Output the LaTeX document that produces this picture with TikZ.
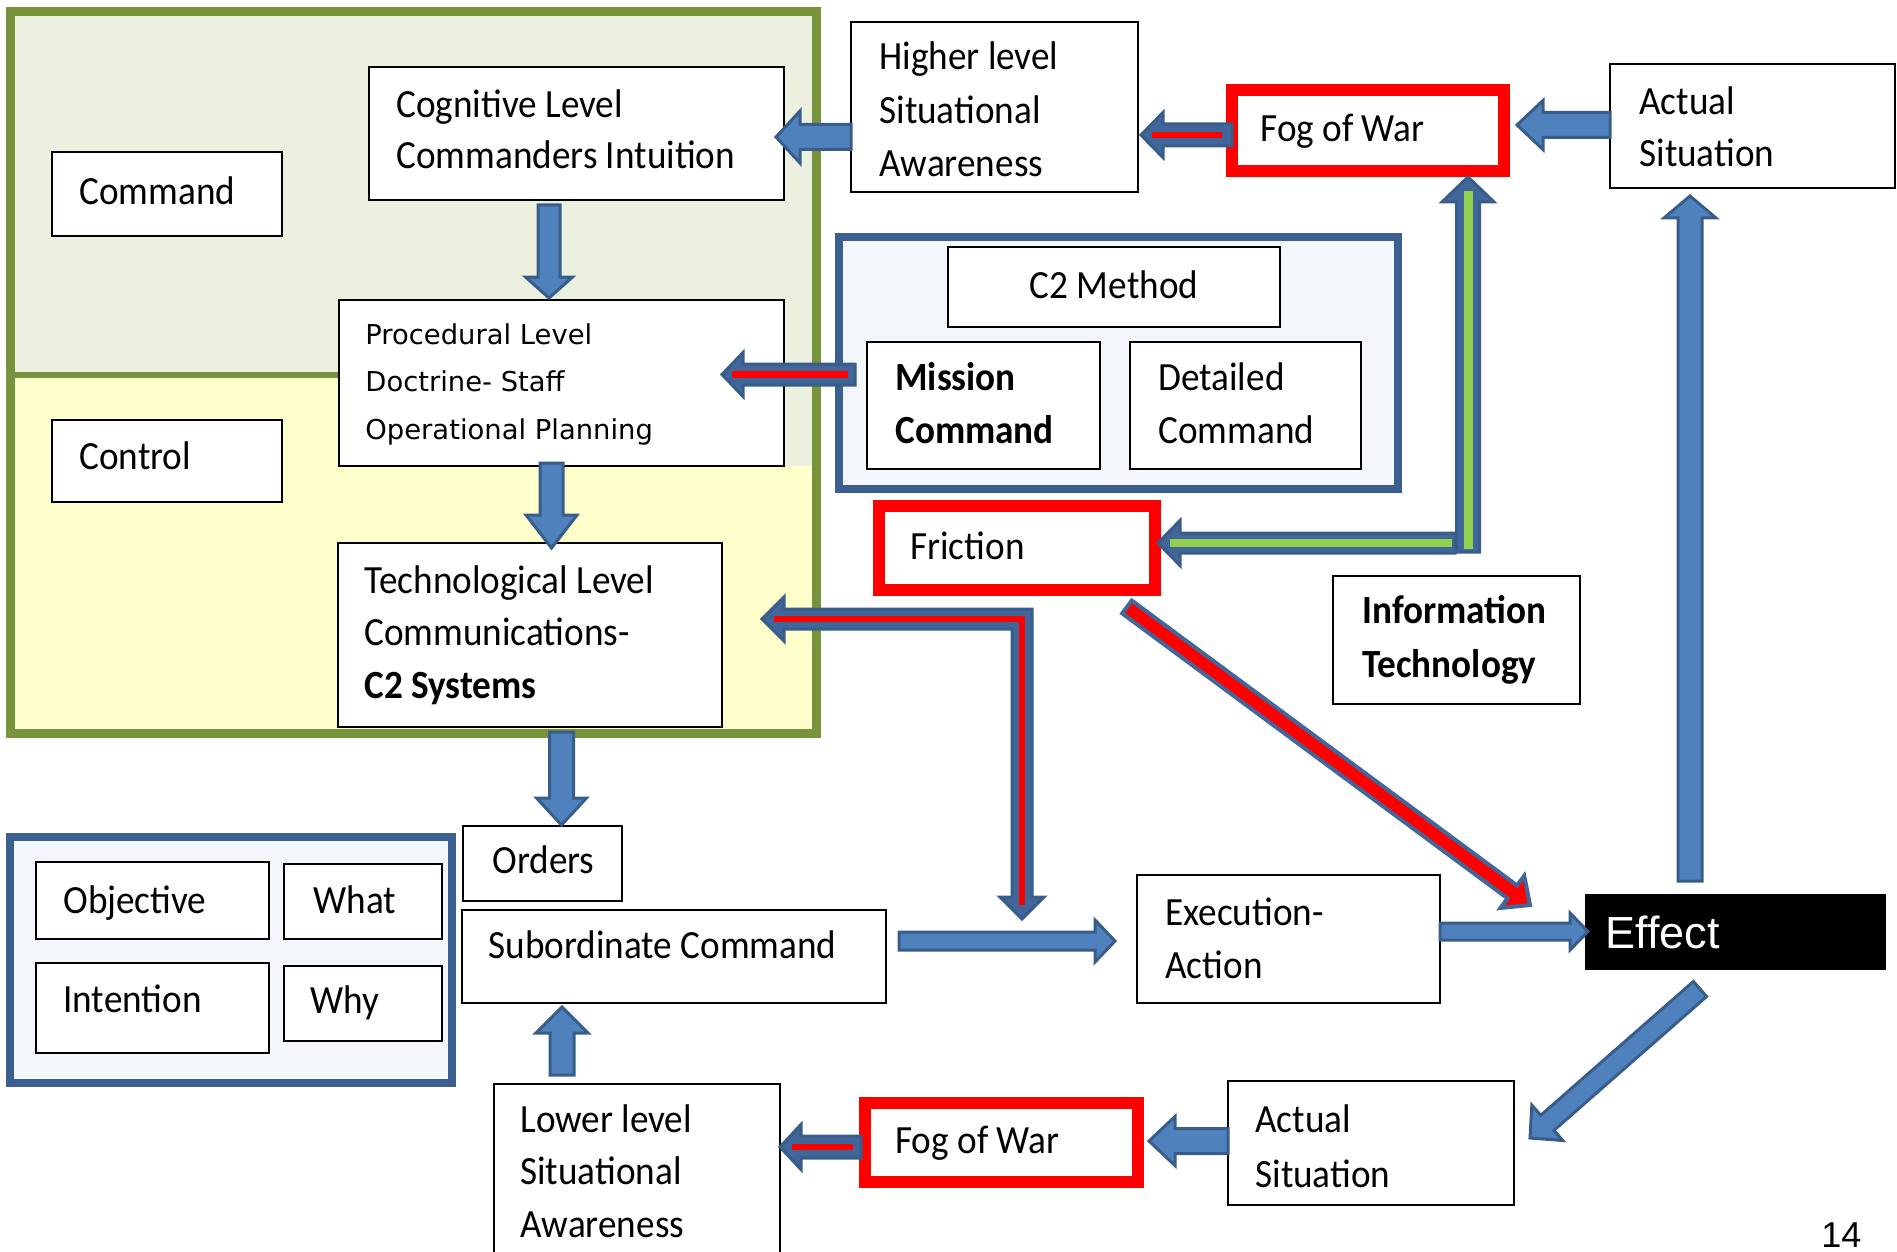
\documentclass[tikz,border=0pt]{standalone}
\usepackage{fontspec}
\setmainfont{Carlito}[FakeStretch=0.93]
\newfontfamily\procfont{DejaVu Sans}
\newfontfamily\arialfont{Liberation Sans}
\usetikzlibrary{calc}

\definecolor{oliveline}{HTML}{77933C}
\definecolor{topfill}{HTML}{EBF1DE}
\definecolor{lowfill}{HTML}{FFFFCC}
\definecolor{navyline}{HTML}{3B5F8E}
\definecolor{panelfill}{HTML}{F3F6FA}
\definecolor{arrowfill}{HTML}{4F81BD}
\definecolor{arrowedge}{HTML}{385D8A}
\definecolor{darkshaft}{HTML}{41679A}
\definecolor{alarm}{HTML}{FF0000}
\definecolor{itgreen}{HTML}{92D050}

% one drawing unit
\def\pxu{0.5pt}

% multi-line text whose baseline is the first line
\newcommand\ml[2]{\parbox[t]{400pt}{\raggedright\baselineskip=#1\relax #2}}

% rectangle node from corner (x1,y1) to (x2,y2), y measured downwards
\newcommand\rect[6][]{%
  \node[box,#1,anchor=north west,minimum width={(#4-#2)*\pxu},minimum height={(#5-#3)*\pxu}] (#6) at (#2,-#3) {};}

% block arrow: [style]{tail}{tip}{shaft half width}{head half width}{head length}
\newcommand\blockarrow[6][]{%
  \path[#1] let \p1=#2, \p2=#3, \p3=($(\p2)!{#6*\pxu}!(\p1)$) in
    ($(\p1)!{#4*\pxu}!-90:(\p2)$) -- ($(\p3)!{#4*\pxu}!-90:(\p2)$) -- ($(\p3)!{#5*\pxu}!-90:(\p2)$)
    -- (\p2) -- ($(\p3)!{#5*\pxu}!90:(\p2)$) -- ($(\p3)!{#4*\pxu}!90:(\p2)$)
    -- ($(\p1)!{#4*\pxu}!90:(\p2)$) -- cycle;}

\tikzset{
  box/.style={draw=black, fill=white, line width=1pt, inner sep=0pt, outer sep=0pt},
  redbox/.style={draw=alarm, line width=6pt},
  panel/.style={draw=navyline, fill=panelfill, line width=4.25pt},
  effectbox/.style={draw=black, fill=black},
  txt/.style={anchor=base west, inner sep=0pt, font=\fontsize{20pt}{26.5pt}\selectfont},
  plainarrow/.style={fill=arrowfill, draw=arrowedge, line width=1.5pt, line join=miter},
  darkarrow/.style={fill=darkshaft, draw=arrowedge, line width=1.5pt, line join=miter},
  redarrow/.style={fill=alarm, draw=darkshaft, line width=2pt, line join=miter},
  redline/.style={draw=alarm, line width=3.25pt},
  greenline/.style={draw=itgreen, line width=4.5pt},
}

\begin{document}
\begin{tikzpicture}[x=0.5pt, y=0.5pt]
\useasboundingbox (0,0) rectangle (1897,-1252);

% command and control regions
\fill[lowfill] (10,-375) rectangle (816,-733);
\fill[topfill] (10,-12) -- (816,-12) -- (816,-466) -- (784,-466) -- (784,-375) -- (10,-375) -- cycle;
\draw[oliveline, line width=4.5pt] (10,-12) rectangle (816,-733);
\draw[oliveline, line width=3pt] (10,-375) -- (339,-375);

% panels
\rect[panel]{839}{237}{1398}{489}{c2panel}
\rect[panel]{10}{837}{452}{1083}{intentpanel}

% boxes
\rect{52}{152}{282}{236}{command}
\rect{52}{420}{282}{502}{control}
\rect{369}{67}{784}{200}{cognitive}
\rect{339}{300}{784}{466}{procedural}
\rect{338}{543}{722}{727}{technological}
\rect{851}{22}{1138}{192}{higher}
\rect[redbox]{1232}{90}{1504}{171}{fogtop}
\rect{1610}{64}{1895}{188}{actualtop}
\rect{948}{247}{1280}{327}{c2method}
\rect{867}{342}{1100}{469}{mission}
\rect{1130}{342}{1361}{469}{detailed}
\rect[redbox]{879}{506}{1155}{590}{friction}
\rect{1333}{576}{1580}{704}{infotech}
\rect{463}{826}{622}{901}{orders}
\rect{462}{910}{886}{1003}{subordinate}
\rect{36}{862}{269}{939}{objective}
\rect{284}{864}{442}{939}{what}
\rect{36}{963}{269}{1053}{intention}
\rect{284}{966}{442}{1041}{why}
\rect{1137}{875}{1440}{1003}{execution}
\rect[effectbox]{1586}{895}{1885}{969}{effect}
\rect{494}{1084}{780}{1262}{lower}
\rect[redbox]{865}{1103}{1138}{1182}{fogbottom}
\rect{1228}{1081}{1514}{1205}{actualbottom}

% texts
\node[txt] (commandT) at (79,-205) {Command};
\node[txt] (controlT) at (79,-469) {Control};
\node[txt] (cognitiveT) at (396,-118) {\ml{25.5pt}{Cognitive Level\\Commanders Intuition}};
\node[txt, font=\procfont\fontsize{13.7pt}{23.75pt}\selectfont] (proceduralT) at (365,-344)
  {\ml{23.75pt}{Procedural Level\\Doctrine- Staff\\Operational Planning}};
\node[txt] (technologicalT) at (364,-593) {\ml{26.25pt}{Technological Level\\Communications-\\\textbf{C2 Systems}}};
\node[txt] (higherT) at (879,-70) {\ml{26.75pt}{Higher level\\Situational\\Awareness}};
\node[txt] (fogtopT) at (1260,-141) {Fog of War};
\node[txt] (actualtopT) at (1639,-115) {\ml{26pt}{Actual\\Situation}};
\node[txt, anchor=base] (c2methodT) at (1114,-299) {C2 Method};
\node[txt] (missionT) at (895,-390) {\ml{26.5pt}{\textbf{Mission}\\\textbf{Command}}};
\node[txt] (detailedT) at (1158,-390) {\ml{26.5pt}{Detailed\\Command}};
\node[txt] (frictionT) at (910,-559) {Friction};
\node[txt] (infotechT) at (1362,-623) {\ml{27pt}{\textbf{Information}\\\textbf{Technology}}};
\node[txt] (ordersT) at (492,-873) {Orders};
\node[txt] (subordinateT) at (488,-958) {Subordinate Command};
\node[txt] (objectiveT) at (63,-913) {Objective};
\node[txt] (whatT) at (313,-913) {What};
\node[txt] (intentionT) at (63,-1012) {Intention};
\node[txt] (whyT) at (310,-1013) {Why};
\node[txt] (executionT) at (1165,-925) {\ml{26.5pt}{Execution-\\Action}};
\node[txt, text=white, font=\arialfont\fontsize{22.5pt}{27pt}\selectfont] (effectT) at (1605,-948) {Effect};
\node[txt] (lowerT) at (520,-1132) {\ml{26.25pt}{Lower level\\Situational\\Awareness}};
\node[txt] (fogbottomT) at (895,-1153) {Fog of War};
\node[txt] (actualbottomT) at (1255,-1132) {\ml{27.5pt}{Actual\\Situation}};
\node[txt, font=\arialfont\fontsize{18pt}{21pt}\selectfont] (pageno) at (1821,-1247) {14};

% arrows along the top row
\blockarrow[plainarrow]{(higher.west |- 0,-137)}{($(cognitive.east |- 0,-137)+(-8,0)$)}{12.5}{26}{24}
\blockarrow[darkarrow]{(fogtop.west |- 0,-135)}{($(higher.east |- 0,-135)+(3,0)$)}{11}{22.5}{22}
\draw[redline] ($(fogtop.west |- 0,-135)+(-10,0)$) -- ($(higher.east |- 0,-135)+(14,0)$);
\blockarrow[plainarrow]{(actualtop.west |- 0,-125)}{($(fogtop.east |- 0,-125)+(13,0)$)}{12.5}{24.5}{26}

% information technology feedback
\coordinate (itbend) at (1468,-552);
\blockarrow[darkarrow]{(itbend)}{($(fogtop.south -| itbend)+(0,-6)$)}{11.5}{26}{25}
\draw[greenline] ($(itbend)+(0,3)$) -- ($(fogtop.south -| itbend)+(0,-20)$);
\blockarrow[darkarrow]{($(itbend |- 0,-543)+(-13,0)$)}{($(friction.east |- 0,-543)+(3,0)$)}{10}{22.5}{22}
\draw[greenline, line width=4pt] ($(itbend |- 0,-543)+(-16,0)$) -- ($(friction.east |- 0,-543)+(15,0)$);

% C2 method into procedures
\blockarrow[darkarrow]{($(mission.west |- 0,-374.5)+(-12,0)$)}{($(procedural.east |- 0,-374.5)+(-62,0)$)}{10.5}{22}{21}
\draw[redline] ($(mission.west |- 0,-374.5)+(-19,0)$) -- ($(procedural.east |- 0,-374.5)+(-52,0)$);

% levels down the left column
\blockarrow[plainarrow]{($(cognitive.south -| 549,0)+(0,-5)$)}{($(procedural.north -| 549,0)+(0,2)$)}{11}{23.5}{21}
\blockarrow[plainarrow]{($(procedural.south -| 551.5,0)+(0,3)$)}{($(technological.north -| 551.5,0)+(0,-5)$)}{11.5}{25.5}{33}
\blockarrow[plainarrow]{($(technological.south -| 561.5,0)+(0,-5)$)}{($(orders.north -| 561.5,0)+(0,1)$)}{12}{25}{27}
\blockarrow[plainarrow]{($(lower.north -| 562,0)+(0,9)$)}{($(subordinate.south -| 562,0)+(0,-4)$)}{12}{26}{26}

% friction split arrow
\coordinate (lbend) at (1022,-619);
\filldraw[darkarrow] (762,-619) -- (784,-597) -- (784,-609) -- (1032,-609) -- (1032,-897)
  -- (1044,-897) -- (1022,-919) -- (1000,-897) -- (1012,-897) -- (1012,-629)
  -- (784,-629) -- (784,-641) -- cycle;
\draw[redline, line join=miter] (774,-619) -- (lbend) -- (1022,-905);

% execution chain
\blockarrow[plainarrow]{($(subordinate.east |- 0,-941)+(13,0)$)}{($(execution.west |- 0,-941)+(-22,0)$)}{9}{21}{20}
\blockarrow[plainarrow]{(execution.east |- 0,-931.5)}{($(effect.west |- 0,-931.5)+(2,0)$)}{8.5}{18.5}{18}
\blockarrow[redarrow]{($(friction.south east)+(-28,-17)$)}{($(effect.north west)+(-56,-10)$)}{8}{20}{22}
\blockarrow[plainarrow]{($(effect.north -| 1690,0)+(0,14)$)}{($(actualtop.south -| 1690,0)+(0,-8)$)}{12}{26}{22}
\blockarrow[plainarrow]{($(effect.south -| 1700,0)+(0,-20)$)}{($(actualbottom.east |- 0,-1138)+(16,0)$)}{10}{23.5}{23}

% bottom row
\blockarrow[darkarrow]{($(fogbottom.west |- 0,-1147)+(-4,0)$)}{(lower.east |- 0,-1147)}{11}{22.5}{21}
\draw[redline] ($(fogbottom.west |- 0,-1147)+(-12,0)$) -- ($(lower.east |- 0,-1147)+(12,0)$);
\blockarrow[plainarrow]{(actualbottom.west |- 0,-1141)}{($(fogbottom.east |- 0,-1141)+(11,0)$)}{12.5}{24.5}{26}
\end{tikzpicture}
\end{document}
